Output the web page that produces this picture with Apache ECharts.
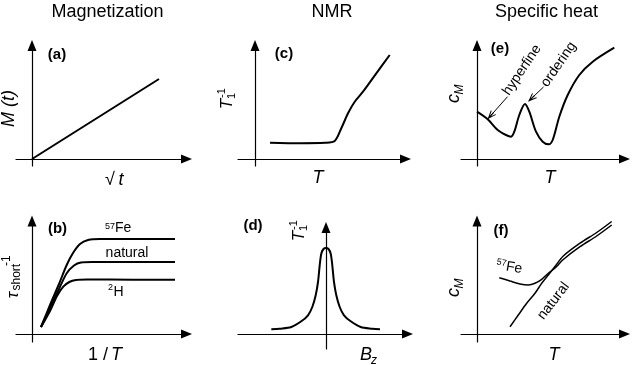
<!DOCTYPE html>
<html>
<head>
<meta charset="utf-8">
<script src="https://cdn.jsdelivr.net/npm/echarts@6/dist/echarts.min.js"></script>
<style>
  html, body { margin: 0; padding: 0; background: #fff; }
  #main { width: 638px; height: 365px; }
</style>
</head>
<body>
<div id="main"></div>
<script>
// schematic curves, units (1 unit ~ 10 px, origin = axis crossing)
// (a) M(t) vs sqrt(t)
var magA = [[0, 0], [12.7, 8.0]];
// (b) tau_short^-1 vs 1/T
var fe57B = [[0.9, 0.7], [1.8, 2.9], [2.7, 5.0], [3.47, 6.9], [4.1, 8.1], [4.8, 9.0], [5.6, 9.4], [6.8, 9.5], [10, 9.5], [14.3, 9.5]];
var naturalB = [[0.9, 0.7], [1.8, 2.6], [2.7, 4.5], [3.47, 6.07], [4.2, 6.85], [4.9, 7.15], [6, 7.2], [10, 7.2], [14.3, 7.2]];
var h2B = [[0.9, 0.7], [1.8, 2.3], [2.5, 3.8], [3.13, 4.73], [3.73, 5.2], [4.4, 5.4], [5.5, 5.45], [10, 5.43], [14.3, 5.43]];
// (c) T1^-1 vs T
var t1C = [[1.5, 1.63], [4.5, 1.58], [7.0, 1.62], [7.97, 1.8], [8.63, 3.07], [9.3, 4.57], [9.97, 5.73], [10.8, 6.73], [12.13, 8.57], [13.47, 10.4]];
// (d) T1^-1 vs Bz
var t1D = [[-5.47, 0.47], [-4.63, 0.53], [-3.47, 0.7], [-2.47, 1.27], [-1.8, 1.87], [-1.37, 2.7], [-1.03, 3.87], [-0.8, 5.2], [-0.63, 6.87], [-0.47, 8.03], [-0.25, 8.5], [0, 8.6],
           [0.25, 8.5], [0.47, 8.03], [0.63, 6.87], [0.8, 5.2], [1.03, 3.87], [1.37, 2.7], [1.8, 1.87], [2.47, 1.27], [3.47, 0.7], [4.63, 0.53], [5.4, 0.47]];
// (e) cM vs T
var cmE = [[0, 4.73], [1.07, 3.97], [2.07, 2.9], [2.9, 2.4], [3.4, 2.23], [3.73, 2.73], [4.23, 4.4], [4.8, 5.5], [5.23, 4.73], [5.9, 2.73], [6.57, 1.73], [7.17, 1.47],
           [7.57, 1.9], [8.23, 4.23], [9.07, 6.4], [10.23, 8.4], [11.57, 9.73], [13.73, 11.13]];
var hyperfineArrow = [[3.05, 6.23], [1.35, 4.31]];
var orderingArrow = [[6.65, 7.2], [5.43, 6.04]];
// (f) cM vs T
var fe57F = [[2.23, 5.63], [3.3, 5.3], [4.3, 5.0], [5.13, 4.9], [5.8, 5.07], [6.47, 5.47], [7.13, 6.07], [7.8, 6.6], [8.63, 7.45], [10.3, 8.73], [11.97, 9.8], [13.47, 10.9]];
var naturalF = [[3.3, 0.73], [4.13, 1.9], [4.97, 3.07], [5.8, 4.07], [6.47, 5.07], [7.13, 5.9], [7.8, 6.75], [8.63, 7.8], [10.3, 9.08], [11.97, 10.15], [13.47, 11.25]];

// panel layout: origin px x, origin px y, xmin, xmax, ymin, ymax
var panels = [
  [32, 159, -1.6, 15.45, -0.7, 11.35],
  [32, 334, -1.6, 15.45, -0.8, 11.3],
  [255, 159, -1.7, 15.05, -0.7, 11.35],
  [326, 334, -8.8, 8.15, -1.5, 10.65],
  [477, 159, -1.6, 14.75, -0.7, 11.35],
  [477, 334, -1.6, 14.75, -0.8, 11.3]
];

var FONT = '"Liberation Sans", Arial, sans-serif';
var chevron = 'path://M0,0L6,10L4.2,10L0,3L-4.2,10L-6,10Z M-0.9,1L0.9,1L0.9,10L-0.9,10Z';

var grids = [], xAxes = [], yAxes = [];
panels.forEach(function (p, i) {
  grids.push({
    left: p[0] + p[2] * 10, top: p[1] - p[5] * 10,
    width: (p[3] - p[2]) * 10, height: (p[5] - p[4]) * 10,
    outerBoundsMode: 'none'
  });
  var ax = {
    gridIndex: i, type: 'value',
    axisLine: { show: true, onZero: true, symbol: ['none', 'triangle'], symbolSize: [9, 11],
      lineStyle: { color: '#000', width: 1.2 } },
    axisTick: { show: false }, axisLabel: { show: false }, splitLine: { show: false }
  };
  xAxes.push(Object.assign({}, ax, { min: p[2], max: p[3] }));
  yAxes.push(Object.assign({}, ax, { min: p[4], max: p[5] }));
});

function curve(idx, data, smooth, width) {
  return {
    type: 'line', xAxisIndex: idx, yAxisIndex: idx, data: data,
    showSymbol: false, symbol: 'none', smooth: smooth,
    lineStyle: { color: '#000', width: width || 2 }
  };
}

var series = [
  curve(0, magA, false),
  curve(1, fe57B, 0.3), curve(1, naturalB, 0.3), curve(1, h2B, 0.3),
  curve(2, t1C, 0.3),
  curve(3, t1D, 0.3),
  curve(4, cmE, 0.3),
  curve(5, fe57F, 0.3, 1.5), curve(5, naturalF, 0.3, 1.5)
];
series[6].markLine = {
  silent: true, animation: false,
  symbol: ['none', chevron], symbolSize: [7, 9],
  label: { show: false },
  lineStyle: { type: 'solid', color: '#000', width: 1 },
  emphasis: { disabled: true },
  data: [
    [{ coord: hyperfineArrow[0] }, { coord: hyperfineArrow[1] }],
    [{ coord: orderingArrow[0] }, { coord: orderingArrow[1] }]
  ]
};

function t(x, y, s, size, o) {
  o = o || {};
  var al = o.align || 'center';
  return {
    type: 'text', x: x, y: y, rotation: o.rot || 0, silent: true,
    style: {
      text: s, fill: '#000', fontFamily: FONT, fontSize: size,
      fontStyle: o.italic ? 'italic' : 'normal',
      fontWeight: o.bold ? 'bold' : 'normal',
      align: al, verticalAlign: 'middle', textAlign: al, textVerticalAlign: 'middle'
    }
  };
}
function grp(x, y, rot, kids) {
  return { type: 'group', x: x, y: y, rotation: rot, silent: true, children: kids };
}
var UP = Math.PI / 2;

var texts = [
  // titles
  t(107.5, 12, 'Magnetization', 18), t(332, 12, 'NMR', 18), t(546.5, 12, 'Specific heat', 18),
  // panel letters
  t(57, 55, '(a)', 15, { bold: true }), t(57.5, 228.5, '(b)', 15, { bold: true }),
  t(284, 54, '(c)', 15, { bold: true }), t(253, 226, '(d)', 15, { bold: true }),
  t(500, 48.5, '(e)', 15, { bold: true }), t(501, 230.5, '(f)', 15, { bold: true }),
  // (a)
  t(9, 108.5, 'M (t)', 18, { italic: true, rot: UP }),
  t(110, 180, '\u221A', 18), t(121, 180, 't', 18, { italic: true }),
  // (b)
  grp(13, 295, UP, [t(0, 0, '\u03C4', 17, { italic: true }), t(4.5, 4, 'short', 12, { align: 'left' }), t(29, -6, '-1', 12, { align: 'left' })]),
  t(108, 355, '1 /', 18, { align: 'right' }), t(111, 355, 'T', 18, { italic: true, align: 'left' }),
  t(115, 226.5, '57', 9, { align: 'right' }), t(115, 228.5, 'Fe', 14, { align: 'left' }),
  t(127, 253, 'natural', 14),
  t(113, 288, '2', 9, { align: 'right' }), t(113.5, 292, 'H', 14, { align: 'left' }),
  // (c)
  grp(227, 104, UP, [t(0, 0, 'T', 17, { italic: true }), t(5, 5, '1', 11, { align: 'left' }), t(6, -5, '-1', 11, { align: 'left' })]),
  t(318, 178, 'T', 18, { italic: true }),
  // (d)
  grp(299, 236, UP, [t(0, 0, 'T', 17, { italic: true }), t(5, 5, '1', 11, { align: 'left' }), t(6, -5, '-1', 11, { align: 'left' })]),
  t(366, 354.5, 'B', 18, { italic: true }), t(374, 361, 'z', 12, { italic: true }),
  // (e)
  grp(454, 98.5, UP, [t(0, 0, 'c', 18, { italic: true }), t(4, 6, 'M', 12, { italic: true, align: 'left' })]),
  t(522, 70, 'hyperfine', 14, { rot: 0.977 }),
  t(558.7, 64.5, 'ordering', 14, { rot: 0.97 }),
  t(550, 178, 'T', 18, { italic: true }),
  // (f)
  grp(454, 292.5, UP, [t(0, 0, 'c', 18, { italic: true }), t(4, 6, 'M', 12, { italic: true, align: 'left' })]),
  grp(509, 267, -0.17, [t(-3, -3, '57', 9, { align: 'right' }), t(-3, 0, 'Fe', 14, { align: 'left' })]),
  t(553.5, 301, 'natural', 14, { rot: 0.92 }),
  t(554, 354.5, 'T', 18, { italic: true })
];

var chart = echarts.init(document.getElementById('main'), null, { renderer: 'canvas' });
chart.setOption({
  backgroundColor: '#fff',
  animation: false,
  grid: grids,
  xAxis: xAxes,
  yAxis: yAxes,
  series: series,
  graphic: { elements: texts }
});
</script>
</body>
</html>
